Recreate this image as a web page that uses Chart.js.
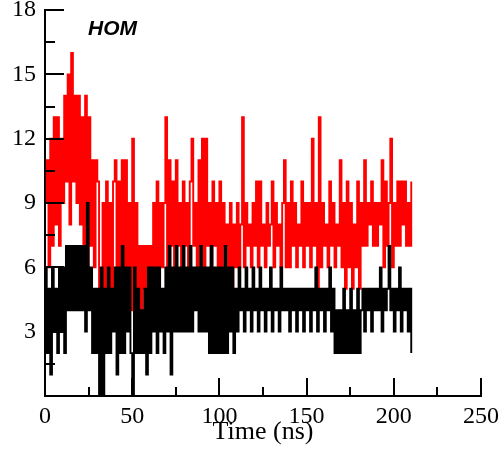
<!DOCTYPE html>
<html>
<head>
<meta charset="utf-8">
<script src="https://cdn.jsdelivr.net/npm/chart.js@4/dist/chart.umd.min.js"></script>
<style>
	html, body { margin: 0; padding: 0; background: #fff; }
	#wrap { width: 504px; height: 461px; }
</style>
</head>
<body>
<div id="wrap"><canvas id="chart" width="504" height="461"></canvas></div>
<script>
// one sample per ns, 0 .. 210 ns
const timeStep = 1;

const redValues = [
	9, 11, 6, 12, 7, 13, 8, 13, 7, 12,
	9, 14, 10, 15, 8, 16, 10, 14, 9, 14,
	8, 13, 7, 14, 6, 13, 7, 11, 6, 11,
	10, 5, 2, 9, 4, 10, 5, 9, 5, 10,
	11, 5, 10, 4, 11, 5, 11, 5, 9, 4,
	12, 5, 9, 5, 7, 4, 7, 5, 7, 4,
	7, 5, 9, 6, 10, 5, 9, 6, 9, 13,
	6, 11, 7, 10, 6, 11, 7, 9, 6, 10,
	7, 9, 6, 10, 12, 7, 9, 6, 11, 7,
	12, 6, 12, 7, 9, 6, 10, 7, 9, 6,
	10, 6, 9, 7, 8, 6, 9, 4, 8, 6,
	9, 6, 8, 13, 6, 9, 7, 8, 6, 9,
	7, 10, 6, 10, 7, 8, 6, 9, 7, 8,
	10, 6, 9, 7, 8, 6, 9, 11, 6, 9,
	6, 10, 7, 9, 6, 8, 7, 10, 6, 9,
	7, 9, 6, 12, 7, 9, 5, 13, 6, 9,
	7, 8, 6, 10, 7, 9, 6, 8, 7, 11,
	6, 9, 5, 10, 6, 9, 5, 8, 6, 10,
	5, 9, 7, 11, 7, 9, 8, 10, 7, 9,
	7, 9, 8, 11, 6, 10, 7, 9, 12, 6,
	9, 7, 10, 7, 10, 8, 10, 7, 9, 7,
	10
];

const blackValues = [
	6, 2, 5, 1, 6, 3, 5, 2, 6, 3,
	6, 2, 7, 4, 7, 4, 7, 4, 7, 4,
	7, 4, 7, 3, 9, 4, 6, 2, 5, 2,
	5, 0, 6, 0, 5, 2, 6, 2, 5, 3,
	6, 1, 6, 2, 7, 2, 6, 3, 6, 2,
	0, 6, 2, 5, 2, 4, 2, 5, 1, 6,
	2, 6, 3, 6, 2, 6, 3, 5, 2, 6,
	3, 7, 1, 6, 3, 7, 3, 6, 3, 7,
	3, 6, 3, 7, 3, 6, 4, 6, 3, 7,
	3, 6, 3, 6, 2, 7, 2, 6, 2, 6,
	2, 6, 2, 7, 2, 6, 3, 6, 2, 5,
	3, 6, 4, 5, 3, 6, 4, 5, 3, 6,
	4, 5, 3, 6, 4, 5, 3, 5, 4, 6,
	3, 5, 4, 5, 3, 6, 4, 5, 4, 5,
	3, 5, 4, 5, 3, 5, 4, 5, 3, 5,
	4, 5, 3, 5, 4, 6, 3, 5, 4, 5,
	3, 5, 4, 6, 3, 5, 2, 4, 2, 4,
	2, 5, 2, 4, 2, 5, 2, 4, 2, 5,
	2, 4, 5, 3, 5, 4, 5, 3, 5, 4,
	5, 4, 6, 3, 5, 4, 5, 7, 4, 5,
	3, 5, 4, 6, 3, 5, 4, 5, 3, 5,
	2
];

const xMajorTicks = [0, 50, 100, 150, 200, 250];
const xMinorTicks = [25, 75, 125, 175, 225];
const yMajorTicks = [0, 3, 6, 9, 12, 15, 18];
const yMinorTicks = [1.5, 4.5, 7.5, 10.5, 13.5, 16.5];

const toPoints = values => values.map((v, i) => ({x: i * timeStep, y: v}));

// ticks point into the plot, like the old xmgrace style
const innerTicks = {
	id: 'innerTicks',
	afterDatasetsDraw(chart) {
		const {ctx, chartArea, scales: {x, y}} = chart;
		ctx.save();
		ctx.strokeStyle = '#000';
		ctx.lineWidth = 2;
		ctx.beginPath();
		xMajorTicks.forEach(v => {
			const px = Math.round(x.getPixelForValue(v));
			ctx.moveTo(px, chartArea.bottom);
			ctx.lineTo(px, chartArea.bottom - 18);
		});
		xMinorTicks.forEach(v => {
			const px = Math.round(x.getPixelForValue(v));
			ctx.moveTo(px, chartArea.bottom);
			ctx.lineTo(px, chartArea.bottom - 9);
		});
		yMajorTicks.forEach(v => {
			const py = Math.round(y.getPixelForValue(v));
			ctx.moveTo(chartArea.left, py);
			ctx.lineTo(chartArea.left + 19, py);
		});
		yMinorTicks.forEach(v => {
			const py = Math.round(y.getPixelForValue(v));
			ctx.moveTo(chartArea.left, py);
			ctx.lineTo(chartArea.left + 10, py);
		});
		ctx.stroke();

		ctx.fillStyle = '#000';
		ctx.font = 'italic bold 21px "Liberation Sans", Arial, sans-serif';
		ctx.textBaseline = 'alphabetic';
		ctx.fillText('HOM', chartArea.left + 43, chartArea.top + 25);
		ctx.restore();
	}
};

new Chart(document.getElementById('chart'), {
	type: 'line',
	data: {
		datasets: [{
			label: 'black',
			data: toPoints(blackValues),
			borderColor: '#000000',
			borderWidth: 1.9,
			pointRadius: 0,
			stepped: true,
			order: 0
		}, {
			label: 'red',
			data: toPoints(redValues),
			borderColor: '#ff0000',
			borderWidth: 1.9,
			pointRadius: 0,
			stepped: true,
			order: 1
		}]
	},
	options: {
		responsive: false,
		animation: false,
		layout: { padding: { top: 10, right: 23, left: 0, bottom: 0 } },
		plugins: {
			legend: { display: false },
			tooltip: { enabled: false }
		},
		scales: {
			x: {
				type: 'linear',
				min: 0,
				max: 250,
				grid: { display: false, drawTicks: false },
				border: { display: true, color: '#000', width: 2 },
				afterBuildTicks: s => { s.ticks = xMajorTicks.map(v => ({value: v})); },
				afterFit: s => { s.height = 65; s.paddingLeft = 0; s.paddingRight = 0; },
				ticks: {
					color: '#000',
					padding: 6,
					maxRotation: 0,
					font: { family: '"Liberation Serif", "Times New Roman", serif', size: 24 }
				},
				title: {
					display: true,
					text: 'Time (ns)',
					color: '#000',
					padding: { top: 0, bottom: 13 },
					font: { family: '"Liberation Serif", "Times New Roman", serif', size: 26 }
				}
			},
			y: {
				type: 'linear',
				min: 0,
				max: 18,
				grid: { display: false, drawTicks: false },
				border: { display: true, color: '#000', width: 2 },
				afterBuildTicks: s => { s.ticks = yMajorTicks.map(v => ({value: v})); },
				afterFit: s => { s.width = 45; s.paddingTop = 0; s.paddingBottom = 0; },
				ticks: {
					color: '#000',
					padding: 9,
					callback: v => (v === 0 ? '' : v),
					font: { family: '"Liberation Serif", "Times New Roman", serif', size: 24 }
				}
			}
		}
	},
	plugins: [innerTicks]
});
</script>
</body>
</html>
